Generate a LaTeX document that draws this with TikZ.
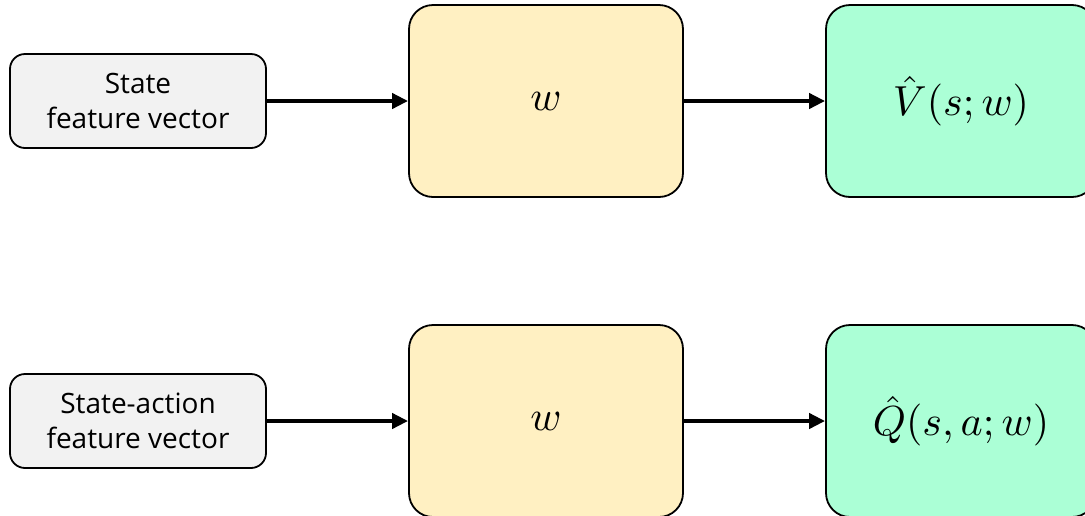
\documentclass[tikz,border=0pt]{standalone}
\usepackage{graphicx}
\usepackage{fontspec}
\setsansfont{Open Sans}
\usetikzlibrary{arrows.meta}
\definecolor{boxgray}{HTML}{F2F2F2}
\definecolor{boxyellow}{HTML}{FFF0C2}
\definecolor{boxgreen}{HTML}{ABFFD6}
\newcommand{\bigmath}[1]{\scalebox{4.2}{$#1$}}
\tikzset{
  inbox/.style={draw=black, line width=1.8pt, fill=boxgray, rounded corners=15pt,
    minimum width=256pt, minimum height=94pt, inner sep=0pt, align=center,
    font=\sffamily\fontsize{28}{35}\selectfont},
  wbox/.style={draw=black, line width=1.8pt, fill=boxyellow, rounded corners=24pt,
    minimum width=274pt, minimum height=192pt, inner sep=0pt},
  outbox/.style={draw=black, line width=1.8pt, fill=boxgreen, rounded corners=24pt,
    minimum width=270pt, minimum height=192pt, inner sep=0pt},
  flow/.style={line width=4pt, -{Triangle[length=16pt,width=15pt]}}
}
\begin{document}
\begin{tikzpicture}[x=1pt,y=-1pt]
\clip (0,0) rectangle (1085,515);
\fill[white] (0,0) rectangle (1085,515);
\node[inbox] (g1) at (138,101) {State\\feature vector};
\node[wbox] (w1) at (546,101) {\bigmath{w}};
\node[outbox] (v1) at (961,101) {\bigmath{\hat{V}(s;w)}};
\node[inbox] (g2) at (138,421) {State-action\\feature vector};
\node[wbox] (w2) at (546,421) {\bigmath{w}};
\node[outbox] (q2) at (961,421) {\bigmath{\hat{Q}(s,a;w)}};
\draw[flow] (g1.east) -- (w1.west);
\draw[flow] (w1.east) -- (v1.west);
\draw[flow] (g2.east) -- (w2.west);
\draw[flow] (w2.east) -- (q2.west);
\end{tikzpicture}
\end{document}
